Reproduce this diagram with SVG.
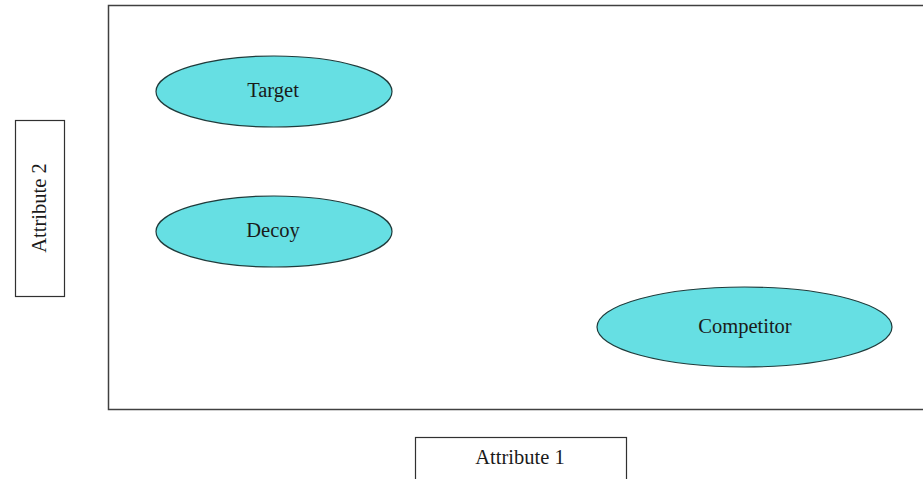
<svg xmlns="http://www.w3.org/2000/svg" width="923" height="479" viewBox="0 0 923 479">
<style>
.frame{fill:none;stroke:#404040;stroke-width:1.5}
.box{fill:#fff;stroke:#303030;stroke-width:1.2}
.ell{fill:#66dfe3;stroke:#1f3b3b;stroke-width:1.2}
text{font-family:"Liberation Serif","Times New Roman",serif;font-size:20.5px;fill:#1a1a1a;text-anchor:middle;dominant-baseline:central}
</style>
<rect width="923" height="479" fill="#fff"/>
<rect class="frame" x="108.5" y="5.5" width="820" height="404"/>
<g id="attr2"><rect class="box" x="15.5" y="120.5" width="49" height="176"/><text transform="translate(39,208) rotate(-90)">Attribute 2</text></g>
<g id="attr1"><rect class="box" x="415.5" y="437.5" width="211" height="50"/><text x="520" y="457">Attribute 1</text></g>
<g id="target"><ellipse class="ell" cx="274" cy="91.5" rx="118" ry="35.5"/><text x="273" y="90">Target</text></g>
<g id="decoy"><ellipse class="ell" cx="274" cy="231.5" rx="118" ry="35.5"/><text x="273" y="230">Decoy</text></g>
<g id="competitor"><ellipse class="ell" cx="744.5" cy="327" rx="147.5" ry="40"/><text x="745" y="326">Competitor</text></g>
<g id="connectors"></g>
</svg>
